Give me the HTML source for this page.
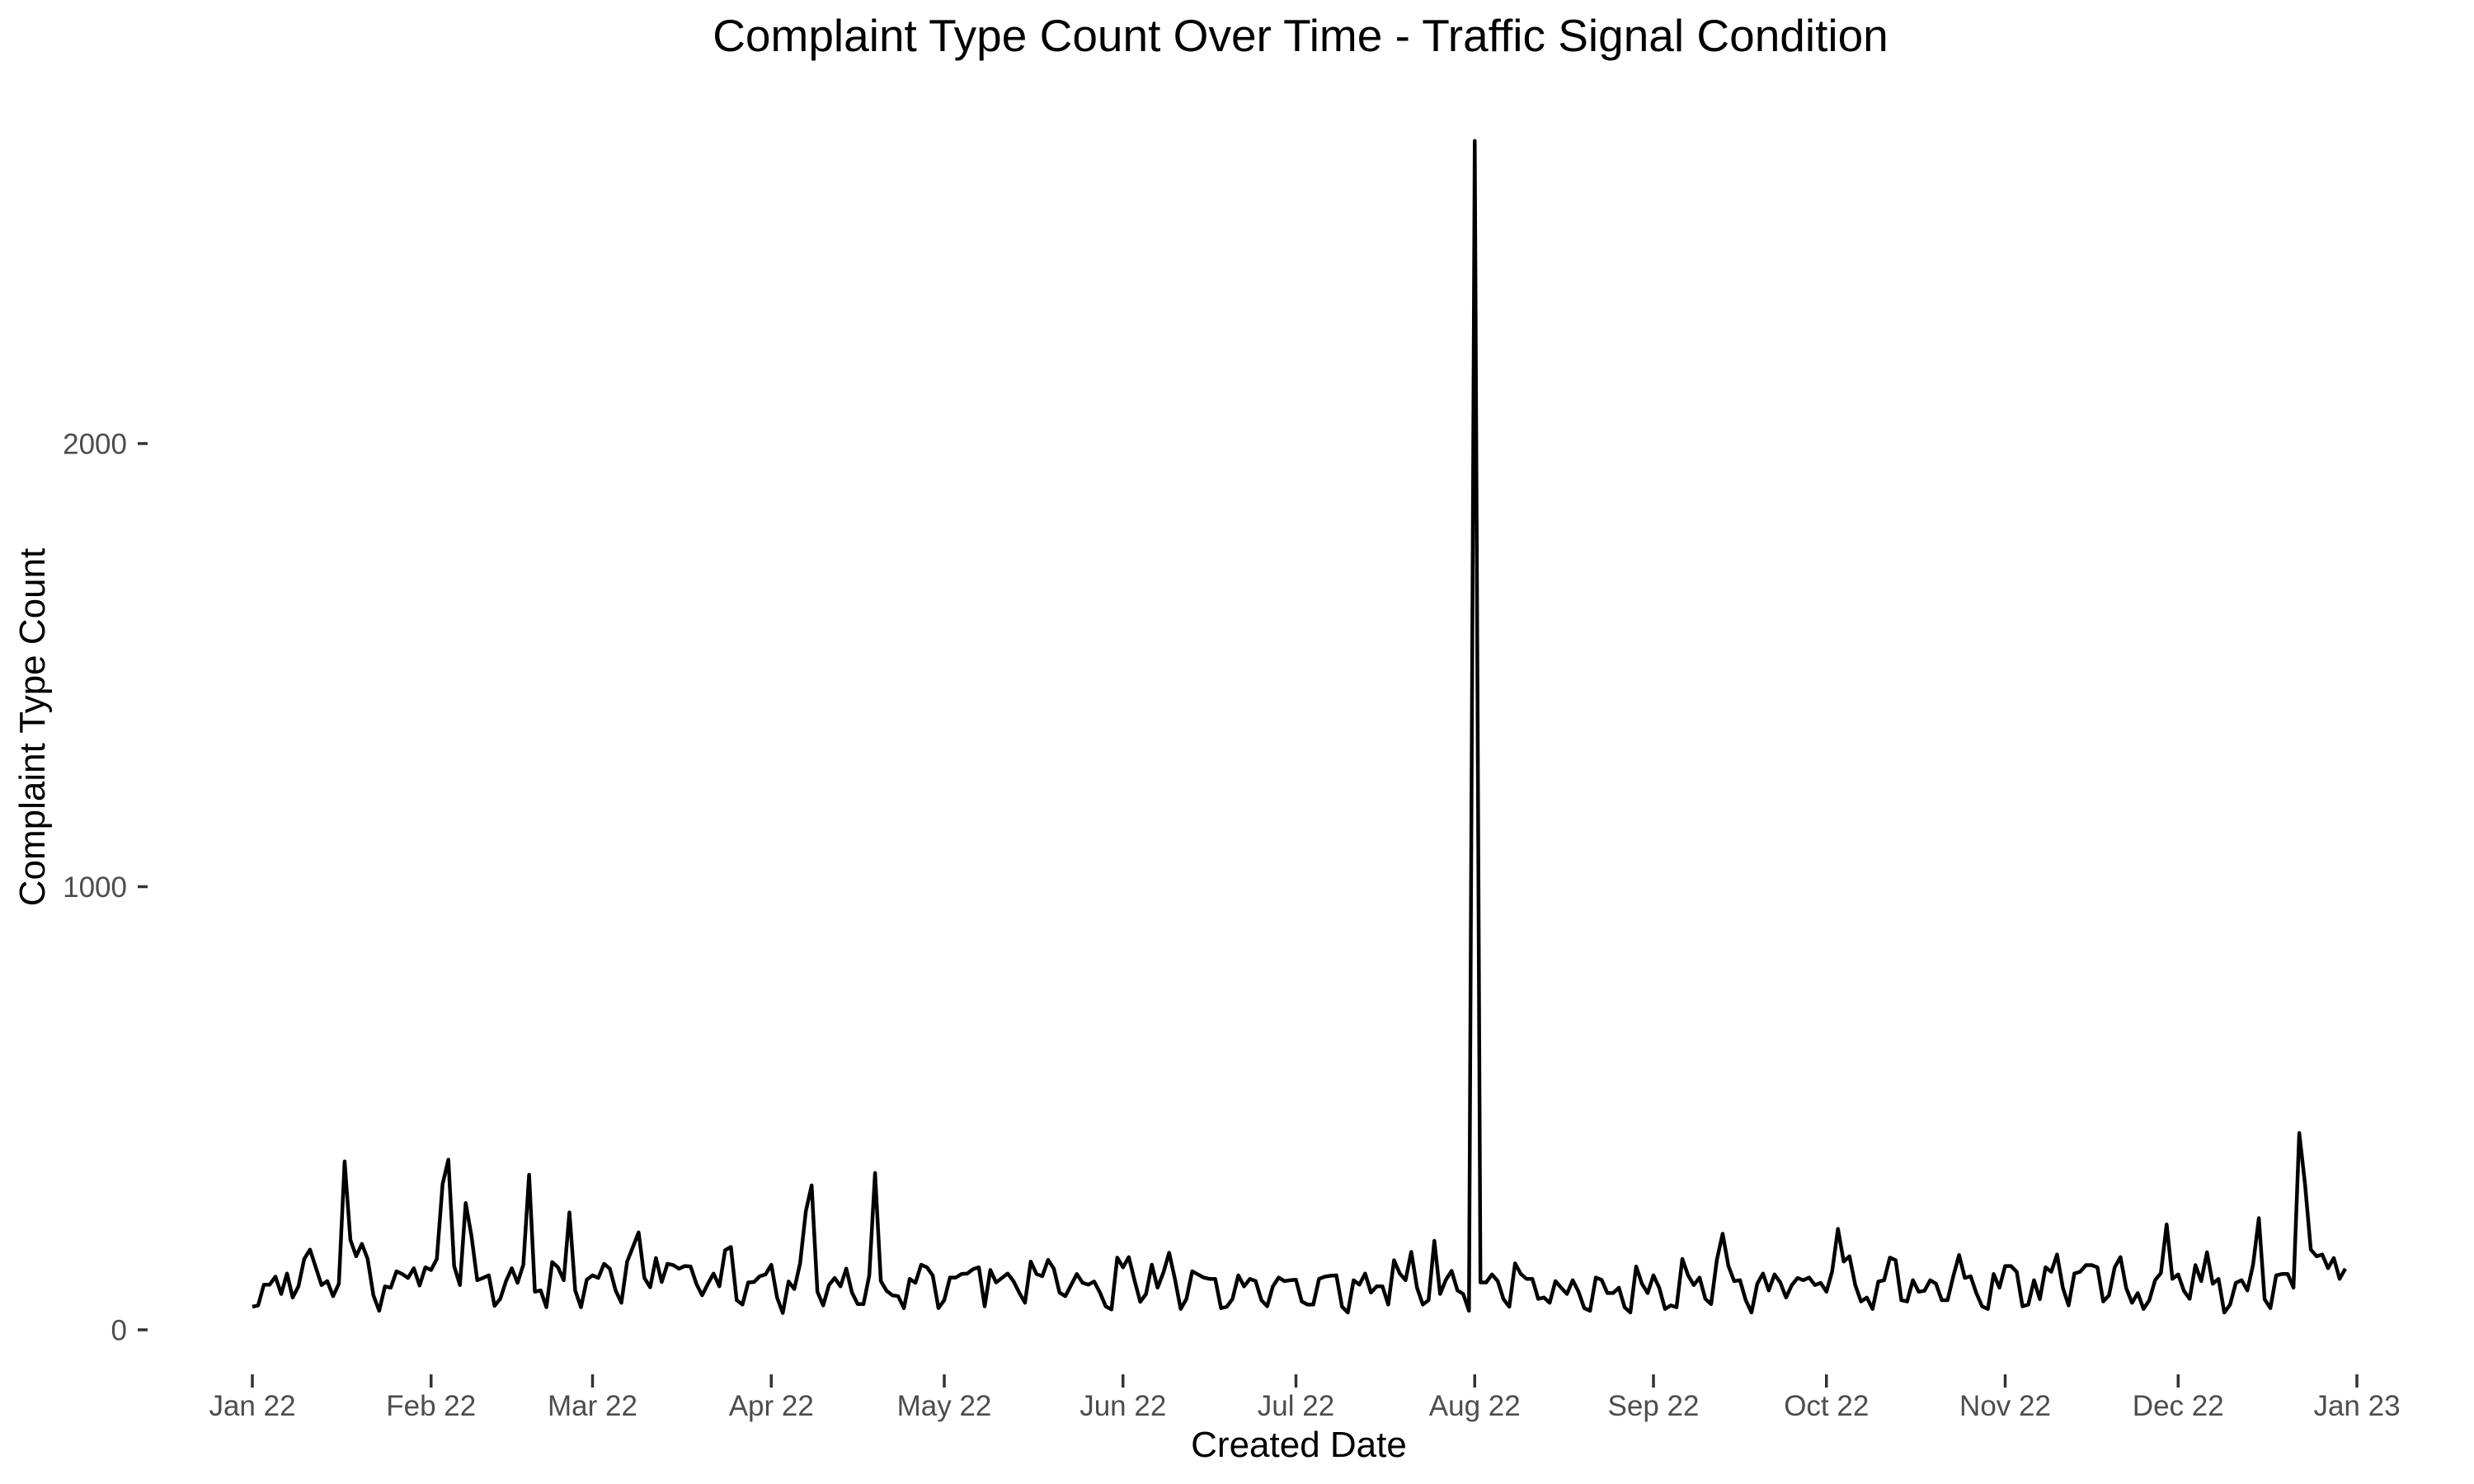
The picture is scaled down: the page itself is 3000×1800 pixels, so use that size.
<!DOCTYPE html>
<html><head><meta charset="utf-8"><style>
html,body{margin:0;padding:0;background:#fff;}
svg{display:block;font-family:"Liberation Sans",Arial,sans-serif;}
</style></head><body>
<svg id="chart" width="3000" height="1800" viewBox="0 0 3000 1800" xmlns="http://www.w3.org/2000/svg">
<rect width="3000" height="1800" fill="#fff"/>
<text x="1577" y="62" font-size="55" text-anchor="middle" fill="#000">Complaint Type Count Over Time - Traffic Signal Condition</text>
<text x="1575" y="1767" font-size="44" text-anchor="middle" fill="#000">Created Date</text>
<text transform="translate(54,882) rotate(-90)" font-size="44" text-anchor="middle" fill="#000">Complaint Type Count</text>
<g id="axes"></g>
<g id="series"></g>
</svg>
<script>
const monthLabels = ["Jan 22","Feb 22","Mar 22","Apr 22","May 22","Jun 22","Jul 22","Aug 22","Sep 22","Oct 22","Nov 22","Dec 22","Jan 23"];
const monthDays = [0,31,59,90,120,151,181,212,243,273,304,334,365];
const yTicks = [0,1000,2000];
const counts = [
52,55,102,102,120,81,127,73,98,160,181,141,101,110,76,104,380,203,166,194,160,78,43,98,95,132,126,117,139,100,141,
135,160,329,384,144,101,286,212,112,117,123,54,70,110,139,106,147,350,86,89,51,153,141,112,265,89,51,113,
123,117,149,138,89,61,154,187,220,117,96,162,108,149,146,138,144,143,104,78,104,127,98,180,187,67,57,107,108,121,125,
147,73,38,109,92,150,268,326,86,55,101,117,98,138,84,58,58,123,354,110,88,78,76,49,115,106,147,141,123,49,
67,118,118,126,127,137,141,53,135,107,117,127,110,84,61,154,126,121,158,138,84,76,101,126,106,102,109,84,53,46,163,
141,164,112,63,81,147,95,129,174,115,47,70,132,125,118,115,115,49,52,70,123,98,115,110,67,53,98,118,110,112,
113,64,57,57,115,120,122,123,52,39,112,102,127,84,98,98,57,157,127,112,176,95,57,67,201,81,113,133,89,81,43,
2683,107,107,125,110,69,52,150,126,115,115,70,73,61,110,95,81,112,86,49,43,118,113,83,83,95,51,39,143,104,83,
123,95,47,55,51,160,123,101,118,70,58,158,217,144,110,112,67,39,104,127,89,125,107,73,101,117,112,118,101,106,
86,132,228,154,166,101,64,73,47,109,112,163,157,67,64,112,86,88,112,104,67,67,121,169,117,121,83,53,47,126,95,
144,144,131,53,57,112,69,141,131,170,95,55,127,131,146,146,141,64,78,141,164,94,61,83,47,67,112,128,238,
115,125,88,70,146,110,175,104,115,39,57,106,112,89,147,252,69,49,123,126,126,95,444,329,181,166,170,139,162,115,138
];
const X0=306, PXDAY=(2858-306)/365, Y0=1613, PXUNIT=537.5/1000;
function xScale(d){return X0+d*PXDAY;}
function yScale(v){return Y0-v*PXUNIT;}
const NS="http://www.w3.org/2000/svg";
const axes=document.getElementById('axes');
const series=document.getElementById('series');
monthLabels.forEach((lab,i)=>{
  const x=xScale(monthDays[i]);
  const t=document.createElementNS(NS,'line');
  t.setAttribute('x1',x);t.setAttribute('x2',x);t.setAttribute('y1',1667);t.setAttribute('y2',1683);
  t.setAttribute('stroke','#333');t.setAttribute('stroke-width','3.5');
  
  
  axes.appendChild(t);
  const tx=document.createElementNS(NS,'text');
  tx.setAttribute('x',x);tx.setAttribute('y',1717);tx.setAttribute('font-size','35');
  tx.setAttribute('text-anchor','middle');tx.setAttribute('fill','#4d4d4d');
  tx.textContent=lab;
  
  
  axes.appendChild(tx);
});
yTicks.forEach(v=>{
  const y=yScale(v);
  const t=document.createElementNS(NS,'line');
  t.setAttribute('x1',167);t.setAttribute('x2',179);t.setAttribute('y1',y);t.setAttribute('y2',y);
  t.setAttribute('stroke','#333');t.setAttribute('stroke-width','3.5');
  
  
  axes.appendChild(t);
  const tx=document.createElementNS(NS,'text');
  tx.setAttribute('x',154);tx.setAttribute('y',y+12.5);tx.setAttribute('font-size','35');
  tx.setAttribute('text-anchor','end');tx.setAttribute('fill','#4d4d4d');
  tx.textContent=String(v);
  
  
  axes.appendChild(tx);
});
const pts=counts.map((v,i)=>xScale(i).toFixed(1)+','+yScale(v).toFixed(1)).join(' ');
const pl=document.createElementNS(NS,'polyline');
pl.setAttribute('points',pts);pl.setAttribute('fill','none');pl.setAttribute('stroke','#000');
pl.setAttribute('stroke-width','4.5');pl.setAttribute('stroke-linejoin','round');


series.appendChild(pl);
</script>
</body></html>
